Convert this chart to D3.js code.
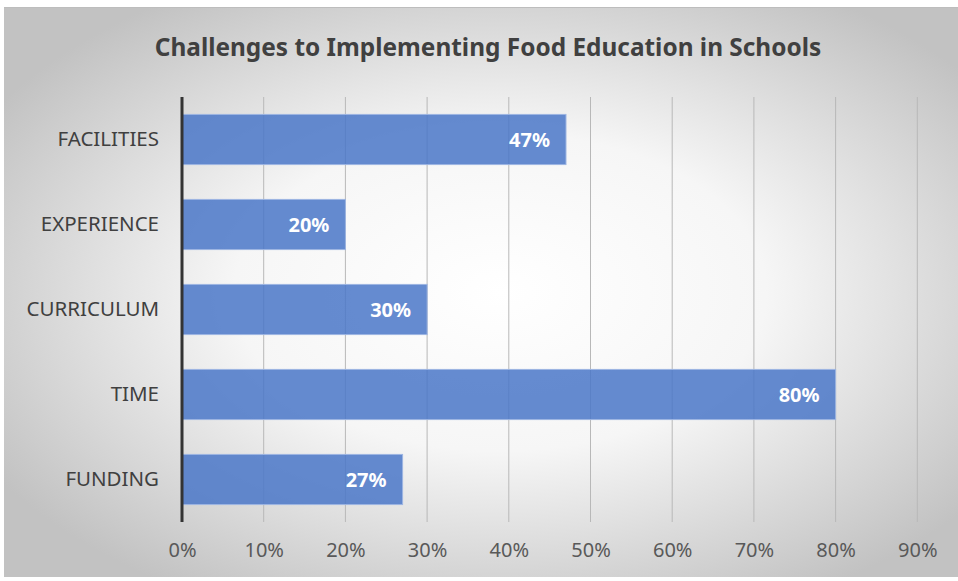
<!DOCTYPE html>
<html>
<head>
<meta charset="utf-8">
<script src="https://cdn.jsdelivr.net/npm/d3@7"></script>
<style>
  html, body { margin: 0; padding: 0; background: #fff; }
  svg { display: block; }
</style>
</head>
<body>
<div id="chart"></div>
<script>
"use strict";

const categories = ["FACILITIES", "EXPERIENCE", "CURRICULUM", "TIME", "FUNDING"];
const values = [0.47, 0.20, 0.30, 0.80, 0.27];
const tickValues = [0, 0.1, 0.2, 0.3, 0.4, 0.5, 0.6, 0.7, 0.8, 0.9];
const title = "Challenges to Implementing Food Education in Schools";

(function draw() {
    const width = 958, height = 581;
    const font = "'Noto Sans', 'Open Sans', sans-serif";
    const plot = {left: 182, right: 999, top: 97, bottom: 522};

    const svg = d3.select("#chart")
        .append("svg")
        .attr("width", width)
        .attr("height", height);

    // background panel with radial gradient
    const defs = svg.append("defs");
    const grad = defs.append("radialGradient")
        .attr("id", "bg")
        .attr("cx", "52%").attr("cy", "50%").attr("r", "62%");
    grad.append("stop").attr("offset", "0%").attr("stop-color", "#ffffff");
    grad.append("stop").attr("offset", "45%").attr("stop-color", "#f6f6f6");
    grad.append("stop").attr("offset", "100%").attr("stop-color", "#c2c2c2");

    svg.append("rect")
        .attr("x", 4).attr("y", 7)
        .attr("width", width - 4).attr("height", 570)
        .attr("fill", "url(#bg)");
    svg.append("line")
        .attr("x1", 4).attr("x2", width)
        .attr("y1", 7.5).attr("y2", 7.5)
        .attr("stroke", "#bdbdbd");

    svg.append("text")
        .attr("x", 488).attr("y", 56)
        .attr("text-anchor", "middle")
        .attr("font-family", font)
        .attr("font-weight", "bold")
        .attr("font-size", 24.4)
        .attr("fill", "#404040")
        .text(title);

    const x = d3.scaleLinear().domain([0, 1]).range([plot.left, plot.right]);
    const y = d3.scaleBand().domain(categories).range([plot.top, plot.bottom])
        .paddingInner(0.41).paddingOuter(0.205);

    // gridlines
    svg.append("g")
        .selectAll("line")
        .data(tickValues.slice(1))
        .join("line")
        .attr("x1", d => x(d)).attr("x2", d => x(d))
        .attr("y1", plot.top).attr("y2", plot.bottom)
        .attr("stroke", "#b8b8b8")
        .attr("stroke-width", 1);

    // bars
    svg.append("g")
        .selectAll("rect")
        .data(values)
        .join("rect")
        .attr("x", plot.left)
        .attr("y", (d, i) => y(categories[i]))
        .attr("width", d => x(d) - plot.left)
        .attr("height", y.bandwidth())
        .attr("fill", "#4a77c8")
        .attr("fill-opacity", 0.85)
        .attr("stroke", "#9db5e2")
        .attr("stroke-width", 1);

    // value labels
    svg.append("g")
        .selectAll("text")
        .data(values)
        .join("text")
        .attr("x", d => x(d) - 16)
        .attr("y", (d, i) => y(categories[i]) + y.bandwidth() / 2)
        .attr("dy", "0.36em")
        .attr("text-anchor", "end")
        .attr("font-family", font)
        .attr("font-weight", "bold")
        .attr("font-size", 20)
        .attr("fill", "#ffffff")
        .text(d => d3.format(".0%")(d));

    // category axis
    const yAxis = svg.append("g")
        .attr("transform", `translate(${plot.left},0)`)
        .call(d3.axisLeft(y).tickSize(0).tickPadding(23));
    yAxis.select(".domain").remove();
    yAxis.selectAll("text")
        .attr("font-family", font)
        .attr("font-size", 20.5)
        .attr("fill", "#404040");

    svg.append("line")
        .attr("x1", plot.left).attr("x2", plot.left)
        .attr("y1", plot.top).attr("y2", plot.bottom)
        .attr("stroke", "#333333")
        .attr("stroke-width", 3);

    // value axis
    const xAxis = svg.append("g")
        .attr("transform", `translate(0,${plot.bottom})`)
        .call(d3.axisBottom(x).tickValues(tickValues).tickFormat(d3.format(".0%")).tickSize(0).tickPadding(21));
    xAxis.select(".domain").remove();
    xAxis.selectAll("text")
        .attr("font-family", font)
        .attr("font-size", 20)
        .attr("fill", "#595959");
})();
</script>
</body>
</html>
